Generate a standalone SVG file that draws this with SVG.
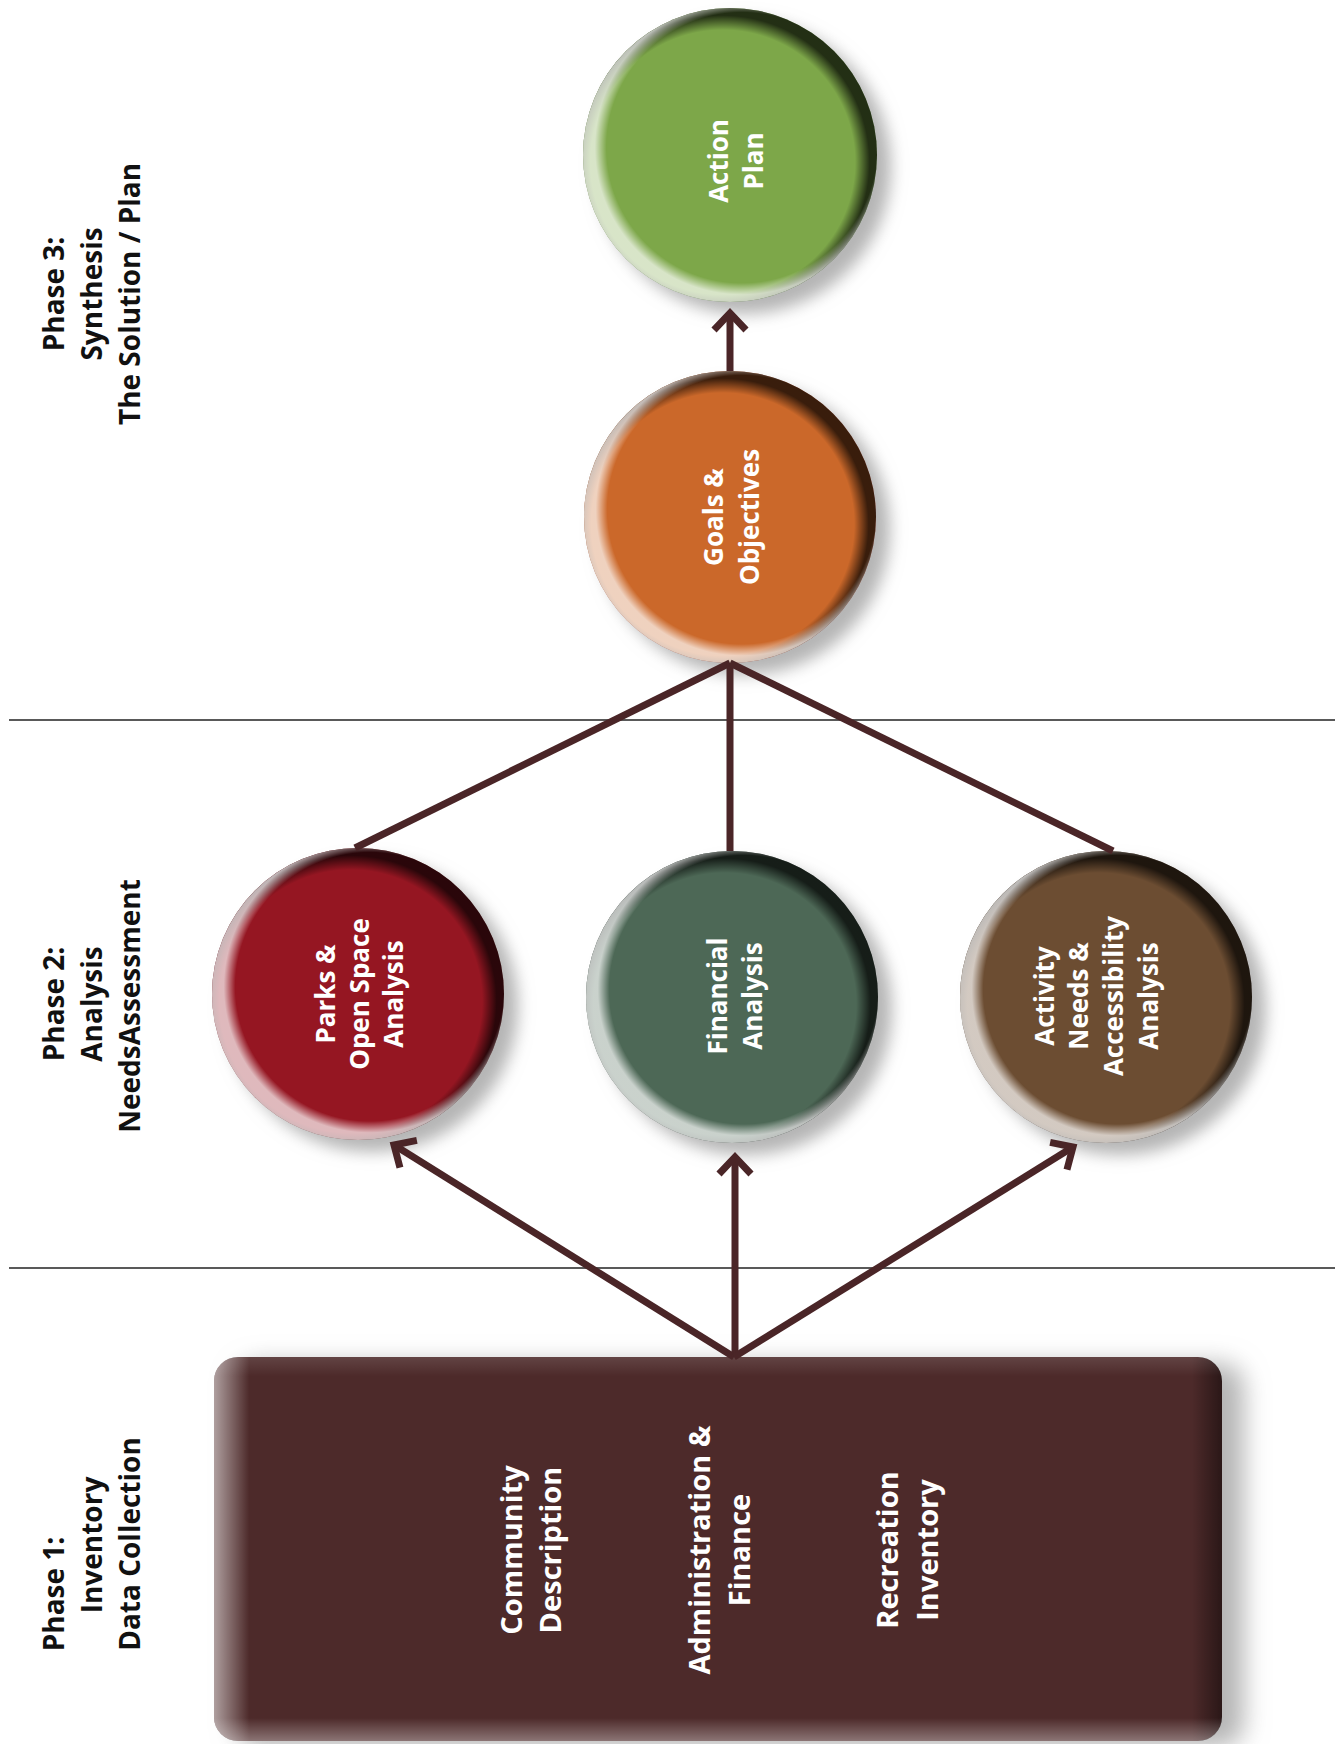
<svg xmlns="http://www.w3.org/2000/svg" width="1343" height="1744" viewBox="0 0 1343 1744">
<style>
.phase{font-family:"Open Sans","Noto Sans","Liberation Sans",sans-serif;font-weight:700;font-size:28px;fill:#111;text-anchor:middle}
.ntext{font-family:"Open Sans","Noto Sans","Liberation Sans",sans-serif;font-weight:700;font-size:26px;fill:#fff;text-anchor:middle}
.btext{font-family:"Open Sans","Noto Sans","Liberation Sans",sans-serif;font-weight:700;font-size:29px;fill:#fff;text-anchor:middle}
.conn{stroke:#4a2527;stroke-width:7;fill:none}
.divider{stroke:#222;stroke-width:1.5}
.dark{fill:url(#gDark)}
.light{fill:url(#gLight)}
</style>
<defs>
<filter id="shadow" x="-20%" y="-20%" width="150%" height="150%">
<feGaussianBlur in="SourceAlpha" stdDeviation="8" result="b"/>
<feOffset in="b" dx="14" dy="12" result="o"/>
<feFlood flood-color="#a8a8a8" flood-opacity="0.85"/>
<feComposite in2="o" operator="in" result="s"/>
<feMerge><feMergeNode in="s"/><feMergeNode in="SourceGraphic"/></feMerge>
</filter>
<filter id="bshadow" x="-10%" y="-10%" width="125%" height="125%">
<feGaussianBlur in="SourceAlpha" stdDeviation="12" result="b"/>
<feOffset in="b" dx="22" dy="6" result="o"/>
<feFlood flood-color="#a8a8a8" flood-opacity="0.85"/>
<feComposite in2="o" operator="in" result="s"/>
<feMerge><feMergeNode in="s"/><feMergeNode in="SourceGraphic"/></feMerge>
</filter>
<radialGradient id="gDark" cx="0.475" cy="0.525" r="0.5">
<stop offset="0.9" stop-color="#000" stop-opacity="0"/>
<stop offset="1" stop-color="#000" stop-opacity="0.72"/>
</radialGradient>
<radialGradient id="gLight" cx="0.54" cy="0.475" r="0.5">
<stop offset="0.92" stop-color="#fff" stop-opacity="0"/>
<stop offset="1" stop-color="#fff" stop-opacity="0.7"/>
</radialGradient>
<linearGradient id="bH" x1="0" y1="0" x2="1" y2="0">
<stop offset="0" stop-color="#fff" stop-opacity="0.55"/>
<stop offset="0.035" stop-color="#fff" stop-opacity="0"/>
<stop offset="0.97" stop-color="#000" stop-opacity="0"/>
<stop offset="1" stop-color="#000" stop-opacity="0.45"/>
</linearGradient>
<linearGradient id="bV" x1="0" y1="0" x2="0" y2="1">
<stop offset="0" stop-color="#fff" stop-opacity="0.12"/>
<stop offset="0.05" stop-color="#fff" stop-opacity="0"/>
<stop offset="0.94" stop-color="#fff" stop-opacity="0"/>
<stop offset="1" stop-color="#fff" stop-opacity="0.35"/>
</linearGradient>
<marker id="arr" markerUnits="userSpaceOnUse" viewBox="-30 -30 60 60" markerWidth="60" markerHeight="60" refX="0" refY="0" orient="auto" overflow="visible">
<path d="M-17,-16 L0,0 L-17,16" fill="none" stroke="#4a2527" stroke-width="7" stroke-linejoin="miter" stroke-miterlimit="10"/>
</marker>
</defs>
<rect width="1343" height="1744" fill="#fff"/>

<g id="dividers">
<line class="divider" x1="9" y1="720" x2="1335" y2="720"/>
<line class="divider" x1="9" y1="1268" x2="1335" y2="1268"/>
</g>

<g id="phase-labels">
<g id="phase3">
<text class="phase" transform="translate(64,294) rotate(-90)">Phase 3:</text>
<text class="phase" transform="translate(102,294) rotate(-90)">Synthesis</text>
<text class="phase" transform="translate(140,294) rotate(-90)">The Solution / Plan</text>
</g>
<g id="phase2">
<text class="phase" transform="translate(64,1004) rotate(-90)">Phase 2:</text>
<text class="phase" transform="translate(102,1004) rotate(-90)">Analysis</text>
<text class="phase" transform="translate(140,1006) rotate(-90)">NeedsAssessment</text>
</g>
<g id="phase1">
<text class="phase" transform="translate(64,1594) rotate(-90)">Phase 1:</text>
<text class="phase" transform="translate(102,1545) rotate(-90)">Inventory</text>
<text class="phase" transform="translate(140,1544) rotate(-90)">Data Collection</text>
</g>
</g>

<g id="node-action-plan">
<g filter="url(#shadow)"><circle cx="730" cy="155" r="147" fill="#7da74a"/></g>
<circle class="dark" cx="730" cy="155" r="147"/>
<circle class="light" cx="730" cy="155" r="147"/>
<text class="ntext" transform="translate(728,161) rotate(-90)">Action</text>
<text class="ntext" transform="translate(763,161) rotate(-90)">Plan</text>
</g>

<g id="node-goals">
<g filter="url(#shadow)"><circle cx="730" cy="517" r="146" fill="#cb6729"/></g>
<circle class="dark" cx="730" cy="517" r="146"/>
<circle class="light" cx="730" cy="517" r="146"/>
<text class="ntext" transform="translate(723,517) rotate(-90)">Goals &amp;</text>
<text class="ntext" transform="translate(759,517) rotate(-90)">Objectives</text>
</g>

<g id="node-parks">
<g filter="url(#shadow)"><circle cx="358" cy="994" r="146" fill="#951422"/></g>
<circle class="dark" cx="358" cy="994" r="146"/>
<circle class="light" cx="358" cy="994" r="146"/>
<text class="ntext" transform="translate(335,994) rotate(-90)">Parks &amp;</text>
<text class="ntext" transform="translate(369,994) rotate(-90)">Open Space</text>
<text class="ntext" transform="translate(403,994) rotate(-90)">Analysis</text>
</g>

<g id="node-financial">
<g filter="url(#shadow)"><circle cx="732" cy="997" r="146" fill="#4e6757"/></g>
<circle class="dark" cx="732" cy="997" r="146"/>
<circle class="light" cx="732" cy="997" r="146"/>
<text class="ntext" transform="translate(727,996) rotate(-90)">Financial</text>
<text class="ntext" transform="translate(762,996) rotate(-90)">Analysis</text>
</g>

<g id="node-activity">
<g filter="url(#shadow)"><circle cx="1106" cy="997" r="146" fill="#6c4e31"/></g>
<circle class="dark" cx="1106" cy="997" r="146"/>
<circle class="light" cx="1106" cy="997" r="146"/>
<text class="ntext" transform="translate(1054,996) rotate(-90)">Activity</text>
<text class="ntext" transform="translate(1088,996) rotate(-90)">Needs &amp;</text>
<text class="ntext" transform="translate(1123,996) rotate(-90)">Accessibility</text>
<text class="ntext" transform="translate(1158,996) rotate(-90)">Analysis</text>
</g>

<g id="node-inventory-box">
<g filter="url(#bshadow)"><rect x="214" y="1357" width="1008" height="384" rx="24" fill="#4e2a2b"/></g>
<rect x="214" y="1357" width="1008" height="384" rx="24" fill="url(#bH)"/>
<rect x="214" y="1357" width="1008" height="384" rx="24" fill="url(#bV)"/>
<text class="btext" transform="translate(522,1550) rotate(-90)">Community</text>
<text class="btext" transform="translate(561,1550) rotate(-90)">Description</text>
<text class="btext" transform="translate(710,1550) rotate(-90)">Administration &amp;</text>
<text class="btext" transform="translate(750,1550) rotate(-90)">Finance</text>
<text class="btext" transform="translate(898,1550) rotate(-90)">Recreation</text>
<text class="btext" transform="translate(938,1550) rotate(-90)">Inventory</text>
</g>

<g id="connectors">
<line class="conn" x1="730" y1="371" x2="730" y2="313" marker-end="url(#arr)"/>
<line class="conn" x1="730" y1="663" x2="355" y2="848"/>
<line class="conn" x1="730" y1="663" x2="730" y2="851"/>
<line class="conn" x1="730" y1="663" x2="1113" y2="851"/>
<line class="conn" x1="734" y1="1357" x2="394" y2="1145" marker-end="url(#arr)"/>
<line class="conn" x1="735" y1="1357" x2="735" y2="1157" marker-end="url(#arr)"/>
<line class="conn" x1="734" y1="1357" x2="1073" y2="1147" marker-end="url(#arr)"/>
</g>
</svg>
